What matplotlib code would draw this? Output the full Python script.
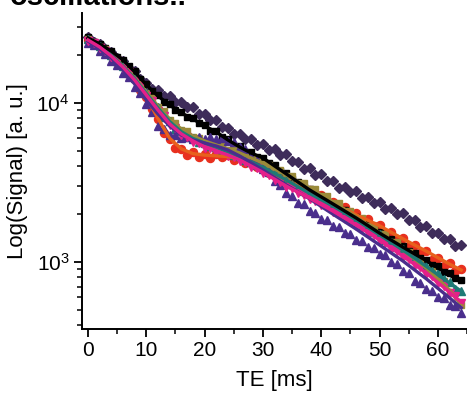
import matplotlib
matplotlib.use("Agg")
import matplotlib.pyplot as plt
from matplotlib.ticker import MultipleLocator, LogLocator, NullFormatter

plt.rcParams['font.family'] = ['Liberation Sans', 'DejaVu Sans']
plt.rcParams['mathtext.fontset'] = 'custom'
plt.rcParams['mathtext.rm'] = 'Liberation Sans'

# ---- data ----
te = list(range(0, 65))  # ms
purple = [25900, 24300, 23500, 21800, 20900, 19300, 18300, 16700, 15900, 14200, 13400, 12300, 12100, 11100, 11100, 10200,
          10200, 9400, 9400, 8500, 8500, 7800, 7800, 7050, 6950, 6350, 6350, 5900, 5900, 5450, 5500, 5050, 5100, 4700,
          4750, 4300, 4250, 3850, 3900, 3550, 3600, 3220, 3230, 2940, 2980, 2740, 2780, 2540, 2570, 2340, 2370, 2150,
          2200, 2000, 2040, 1840, 1840, 1660, 1690, 1520, 1530, 1390, 1400, 1260, 1280]
black_pts = [26100, 24200, 23500, 22300, 21200, 19600, 18700, 17000, 15800, 14100, 13100, 11900, 11300, 10100, 9900, 9000,
             8800, 8200, 8000, 7500, 7300, 6700, 6700, 6100, 5900, 5400, 5350, 4950, 4900, 4600, 4500, 4200, 4050, 3750,
             3650, 3320, 3200, 2960, 2880, 2660, 2590, 2370, 2330, 2160, 2110, 1960, 1910, 1760, 1730, 1590, 1550, 1440,
             1400, 1300, 1260, 1170, 1140, 1060, 1030, 960, 940, 870, 850, 790, 770]
red_pts = [24900, 23600, 22700, 21000, 19900, 18200, 17000, 15200, 14100, 12100, 10900, 9100, 7900, 6500, 5900, 5200,
           5150, 4700, 4900, 4550, 4800, 4500, 4800, 4550, 4700, 4400, 4550, 4200, 4300, 3950, 4000, 3650, 3680, 3350,
           3380, 3060, 3080, 2810, 2830, 2600, 2620, 2360, 2390, 2170, 2210, 1990, 2030, 1840, 1870, 1690, 1700, 1530,
           1550, 1390, 1410, 1260, 1280, 1140, 1170, 1030, 1060, 950, 980, 880, 900]
olive_pts = [25300, 24200, 22600, 21700, 19800, 18800, 16800, 16000, 14200, 13200, 11500, 10800, 9400, 8900, 7800, 7450,
             6750, 6650, 6100, 6050, 5650, 5700, 5350, 5400, 5050, 5100, 4750, 4800, 4420, 4450, 4120, 4100, 3780, 3800,
             3450, 3450, 3150, 3150, 2860, 2870, 2600, 2600, 2340, 2350, 2100, 2100, 1880, 1880, 1680, 1680, 1490, 1490,
             1330, 1330, 1170, 1160, 1030, 1020, 900, 880, 780, 760, 650, 640, 540]
teal_pts = [25300, 23800, 22900, 21200, 20100, 18300, 17100, 15400, 14300, 12600, 11600, 10100, 9400, 8200, 7700, 6900,
            6650, 6150, 6020, 5700, 5640, 5380, 5300, 5050, 4950, 4700, 4630, 4370, 4280, 4050, 3980, 3720, 3630, 3400,
            3300, 3090, 3010, 2800, 2720, 2550, 2490, 2320, 2270, 2110, 2060, 1910, 1850, 1710, 1660, 1540, 1490, 1380,
            1340, 1240, 1200, 1100, 1070, 985, 950, 875, 850, 780, 745, 680, 660]
magenta_pts = [24700, 23900, 22300, 21300, 19500, 18400, 16600, 15600, 13800, 12700, 11100, 10250, 8900, 8300, 7250, 6950,
               6300, 6150, 5700, 5580, 5220, 5200, 4930, 4920, 4650, 4600, 4320, 4250, 3960, 3880, 3610, 3530, 3280, 3200,
               2960, 2900, 2710, 2650, 2490, 2430, 2270, 2220, 2060, 2010, 1860, 1820, 1690, 1640, 1520, 1470, 1360, 1320,
               1210, 1180, 1070, 1050, 955, 925, 840, 815, 740, 710, 640, 610, 555]
indigo_pts = [24000, 23200, 21300, 20400, 18400, 17400, 15500, 14500, 12600, 11600, 9800, 8800, 7200, 6900, 6300, 6300,
              6000, 6150, 5950, 6100, 5950, 6150, 5950, 6050, 5750, 5700, 5250, 5100, 4550, 4350, 3820, 3660, 3220, 3060,
              2720, 2600, 2340, 2300, 2080, 2040, 1860, 1830, 1680, 1650, 1520, 1500, 1370, 1350, 1240, 1220, 1120, 1100,
              1000, 970, 875, 850, 760, 740, 675, 655, 600, 590, 540, 525, 478]

te_fit = [0, 2, 4, 6, 8, 10, 12, 14, 16, 18, 20, 22, 24, 26, 28, 30, 34, 38, 42, 46, 50, 54, 58, 62, 64]
black_fit = [25640, 23500, 21200, 18640, 15700, 12980, 11060, 9715, 8650, 7930, 7170, 6570, 5850, 5290, 4840, 4510,
             3580, 2840, 2320, 1890, 1520, 1240, 1020, 828, 750]
red_fit = [24900, 22500, 19700, 16800, 13950, 10900, 8000, 6000, 5150, 4800, 4700, 4650, 4600, 4450, 4190, 3900,
           3280, 2760, 2330, 1980, 1690, 1400, 1170, 970, 890]
olive_fit = [25300, 22800, 20040, 17080, 14400, 11710, 9575, 7930, 6860, 6200, 5770, 5444, 5140, 4850, 4510, 4190,
             3526, 2910, 2390, 1920, 1520, 1190, 917, 667, 537]
teal_fit = [25300, 22800, 20000, 17000, 14200, 11500, 9300, 7650, 6600, 5980, 5600, 5280, 4920, 4600, 4250, 3950,
            3280, 2700, 2250, 1838, 1479, 1190, 940, 738, 655]
magenta_fit = [24900, 22500, 19700, 16800, 13950, 11230, 9036, 7380, 6390, 5770, 5290, 4990, 4710, 4380, 4010, 3660,
               3000, 2520, 2090, 1710, 1376, 1090, 853, 647, 560]
indigo_fit = [24500, 21900, 19200, 16130, 13170, 10440, 8530, 7170, 6290, 5850, 5600, 5360, 5060, 4640, 4190, 3790,
              3050, 2500, 2000, 1610, 1280, 1015, 785, 595, 515]

# ---- figure ----
fig = plt.figure(figsize=(4.67, 3.94), dpi=100)
ax = fig.add_axes([82 / 467, 65 / 394, 1 - 82 / 467, 316 / 394])

c_purple = '#3e2c5a'
c_red = '#e8301e'
c_olive = '#9a8a3a'
c_teal = '#1e7a76'
c_mag = '#e4208a'
c_ind = '#4a2e8c'

ms = 5.8
ax.plot(te, purple, 'D', color=c_purple, ms=5.2, mec=c_purple, zorder=2)
ax.plot(te, red_pts, 'o', color=c_red, ms=ms, mec=c_red, zorder=2)
ax.plot(te, black_pts, 's', color='black', ms=5.0, zorder=3)
ax.plot(te, olive_pts, 's', color=c_olive, ms=5.0, mec=c_olive, zorder=3)
ax.plot(te, teal_pts, '^', color=c_teal, ms=ms, mec=c_teal, zorder=3)
ax.plot(te, indigo_pts, '^', color=c_ind, ms=ms, mec=c_ind, zorder=3)
ax.plot(te, magenta_pts, 'v', color=c_mag, ms=ms, mec=c_mag, zorder=3)

lw = 2.4
ax.plot(te_fit, red_fit, '-', color='#e8601c', lw=lw, zorder=4)
ax.plot(te_fit, olive_fit, '-', color=c_olive, lw=lw, zorder=4)
ax.plot(te_fit, teal_fit, '-', color=c_teal, lw=lw, zorder=4)
ax.plot(te_fit, indigo_fit, '-', color=c_ind, lw=lw, zorder=4)
ax.plot(te_fit, black_fit, '-', color='black', lw=lw, zorder=5)
ax.plot(te_fit, magenta_fit, '-', color=c_mag, lw=lw, zorder=5)

ax.set_yscale('log')
ax.set_xlim(-1.03, 65)
ax.set_ylim(379, 36800)

ax.spines['top'].set_visible(False)
ax.spines['right'].set_visible(False)
for s in ('left', 'bottom'):
    ax.spines[s].set_linewidth(1.4)

ax.xaxis.set_major_locator(MultipleLocator(10))
ax.xaxis.set_minor_locator(MultipleLocator(5))
ax.yaxis.set_major_locator(LogLocator(base=10, numticks=10))
ax.yaxis.set_minor_locator(LogLocator(base=10, subs=range(2, 10), numticks=10))
ax.yaxis.set_minor_formatter(NullFormatter())
ax.tick_params(which='major', direction='out', length=6, width=1.3, labelsize=15, pad=3)
ax.tick_params(which='minor', direction='out', length=3.5, width=1.1)

ax.set_xlabel('TE [ms]', fontsize=16, labelpad=7)
ax.set_ylabel('Log(Signal) [a. u.]', fontsize=16, labelpad=6)

fig.text(10 / 467, 1 - 5 / 394, 'oscillations..', fontsize=21, fontweight='bold', va='baseline', ha='left')

fig.savefig('out.png', dpi=100)
